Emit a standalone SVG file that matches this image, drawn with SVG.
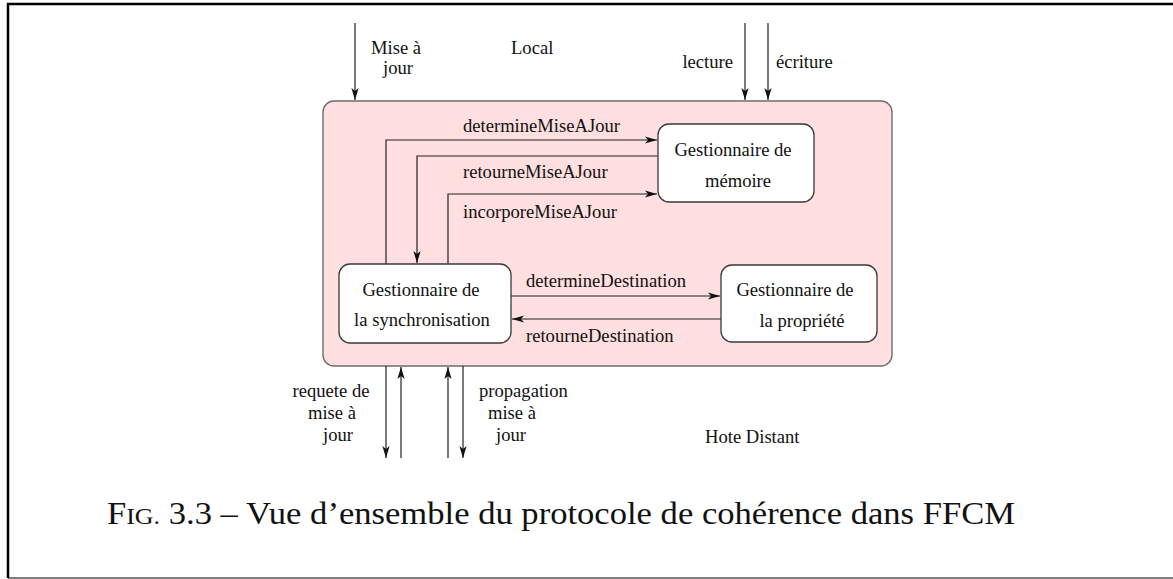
<svg xmlns="http://www.w3.org/2000/svg" width="1173" height="579" viewBox="0 0 1173 579">
<style>
text{font-family:"Liberation Serif","Times New Roman",serif;font-size:18.6px;fill:#111}
.c{text-anchor:middle}
.node rect{fill:#fff;stroke:#3a3a3a;stroke-width:1.3}
.wire{fill:none;stroke:#222;stroke-width:1.2}
.cap{font-size:32px}
</style>
<defs>
<marker id="ah" markerUnits="userSpaceOnUse" markerWidth="14" markerHeight="10" viewBox="0 -5 14 10" refX="12" refY="0" orient="auto">
<path d="M0,-3.6 L12,0 L0,3.6 L3,0 z" fill="#111"/>
</marker>
</defs>
<rect x="8" y="4" width="1180" height="574" fill="#fff" stroke="none"/>
<path d="M8,578 L8,4 L1180,4" fill="none" stroke="#000" stroke-width="2.5"/>
<line x1="8" y1="578" x2="1180" y2="578" stroke="#000" stroke-width="1.2"/>
<g id="local">
<rect x="323" y="101" width="569" height="265" rx="11" fill="#ffdfdf" stroke="#6e6e6e" stroke-width="1.4"/>
</g>
<g id="connectors">
<path class="wire" d="M355,23 L355,100" marker-end="url(#ah)"/>
<path class="wire" d="M745,23 L745,100" marker-end="url(#ah)"/>
<path class="wire" d="M768,23 L768,100" marker-end="url(#ah)"/>
<path class="wire" d="M386,264 L386,140 L657,140" marker-end="url(#ah)"/>
<path class="wire" d="M658,156 L417,156 L417,263" marker-end="url(#ah)"/>
<path class="wire" d="M448,264 L448,194 L657,194" marker-end="url(#ah)"/>
<path class="wire" d="M511,296 L720,296" marker-end="url(#ah)"/>
<path class="wire" d="M721,319 L512,319" marker-end="url(#ah)"/>
<path class="wire" d="M386,366 L386,458" marker-end="url(#ah)"/>
<path class="wire" d="M401,458 L401,367" marker-end="url(#ah)"/>
<path class="wire" d="M448,458 L448,367" marker-end="url(#ah)"/>
<path class="wire" d="M463,366 L463,458" marker-end="url(#ah)"/>
</g>
<g id="labels">
<text x="396" y="54" class="c">Mise à</text>
<text x="398" y="74" class="c">jour</text>
<text x="511" y="54">Local</text>
<text x="733" y="68" text-anchor="end">lecture</text>
<text x="776" y="68">écriture</text>
<text x="463" y="132">determineMiseAJour</text>
<text x="463" y="178">retourneMiseAJour</text>
<text x="463" y="218">incorporeMiseAJour</text>
<text x="526" y="287">determineDestination</text>
<text x="526" y="342">retourneDestination</text>
<text x="331" y="397" class="c">requete de</text>
<text x="332" y="419" class="c">mise à</text>
<text x="338" y="441" class="c">jour</text>
<text x="479" y="397">propagation</text>
<text x="512" y="419" class="c">mise à</text>
<text x="511" y="441" class="c">jour</text>
<text x="705" y="443">Hote Distant</text>
</g>
<g id="memoire" class="node">
<rect x="658" y="124" width="156" height="78" rx="11"/>
<text x="733" y="156" class="c">Gestionnaire de</text>
<text x="738" y="187" class="c">mémoire</text>
</g>
<g id="synchronisation" class="node">
<rect x="339" y="264" width="172" height="79" rx="11"/>
<text x="421" y="296" class="c">Gestionnaire de</text>
<text x="422" y="326" class="c">la synchronisation</text>
</g>
<g id="propriete" class="node">
<rect x="721" y="265" width="156" height="77" rx="11"/>
<text x="795" y="296" class="c">Gestionnaire de</text>
<text x="802" y="327" class="c">la propriété</text>
</g>
<text class="cap" x="107" y="524" textLength="908" lengthAdjust="spacingAndGlyphs">F<tspan font-size="24">IG.</tspan> 3.3 – Vue d’ensemble du protocole de cohérence dans FFCM</text>
</svg>
